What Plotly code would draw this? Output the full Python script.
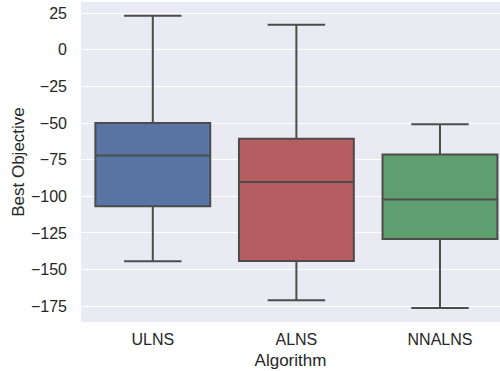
import plotly.graph_objects as go

algorithms = ["ULNS", "ALNS", "NNALNS"]
q1 = [-106.8, -144.1, -129.1]
median = [-72.1, -90.2, -102.2]
q3 = [-49.9, -60.8, -71.5]
lower = [-144.3, -171.0, -176.2]
upper = [23.2, 17.1, -50.8]
colors = ["#5875A4", "#B55D60", "#5F9E6E"]
yticks = [-175, -150, -125, -100, -75, -50, -25, 0, 25]

fig = go.Figure()
for i, name in enumerate(algorithms):
    fig.add_trace(go.Box(
        x=[name], q1=[q1[i]], median=[median[i]], q3=[q3[i]],
        lowerfence=[lower[i]], upperfence=[upper[i]],
        fillcolor=colors[i], line=dict(color="#4C4C4C", width=2),
        width=0.8, whiskerwidth=0.5, boxpoints=False, showlegend=False,
        hoverinfo="skip",
    ))

font = "Liberation Sans, Arial, sans-serif"
fig.update_layout(
    width=500, height=371,
    margin=dict(l=81, r=0, t=2, b=49),
    paper_bgcolor="white", plot_bgcolor="#EAEAF2",
    font=dict(family=font, color="#262626", size=16),
    xaxis=dict(
        categoryorder="array", categoryarray=algorithms,
        range=[-0.5, 2.418], showgrid=False, zeroline=False,
        title=dict(text="Algorithm", font=dict(size=17), standoff=7),
        tickfont=dict(size=16), ticklabelstandoff=6,
    ),
    yaxis=dict(
        range=[-185.8, 32.6], tickvals=yticks,
        gridcolor="white", gridwidth=1.2, zeroline=False,
        title=dict(text="Best Objective", font=dict(size=17), standoff=2),
        tickfont=dict(size=16), ticklabelstandoff=13,
    ),
)

fig.write_html("out.html")
